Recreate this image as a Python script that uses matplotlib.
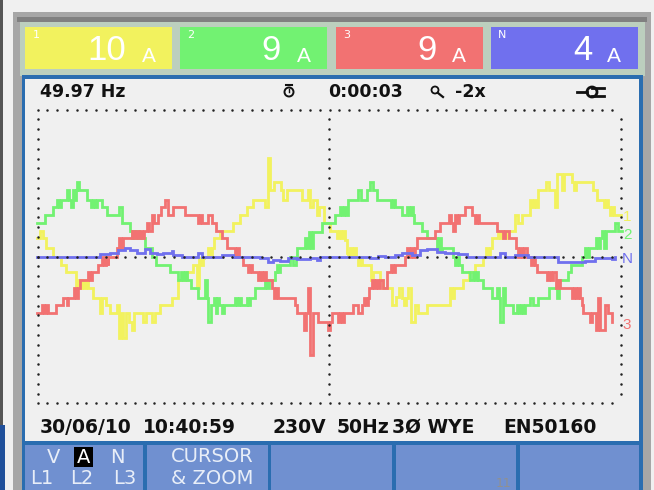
import numpy as np
import matplotlib
matplotlib.use("Agg")
import matplotlib.pyplot as plt
from matplotlib.patches import Rectangle, Circle

# readings as (time, level), time runs in two stretches split at mid screen
green_a = [(20,100),(45,124),(70,148),(82,170),(87,148),(92,170),(110,200),(118,170),(122,148),(128,200),(134,170),(138,200),(142,225),(147,200),(170,170),(182,148),(190,170),(195,148),(200,170),(217,148),(232,124),(268,148),(275,100),(300,77),(305,55),(310,77),(316,55),(322,77),(328,55),(345,25),(360,25),(366,0),(378,-25),(420,-47),(445,-70),(452,-47),(458,-70),(464,-47),(470,-70),(482,-95),(505,-125),(525,-70),(530,-125),(535,-195),(543,-145),(552,-125),(557,-170),(562,-125),(567,-145),(575,-170),(582,-145),(615,-125),(621,-145),(627,-125),(633,-145),(650,-125),(655,-145),(660,-125),(675,-95),(705,-70),(710,-95),(716,-70),(735,-47),(740,-25),(745,-47),(750,-25),(780,0),(790,-25),(798,0),(800,25),(825,55),(832,25),(838,75),(844,25),(850,75),(875,100)]
green_b = [(15,100),(30,124),(45,148),(51,124),(57,148),(63,124),(70,170),(98,200),(108,170),(125,200),(135,225),(143,200),(155,170),(197,148),(203,170),(209,148),(230,124),(245,148),(251,124),(257,148),(263,124),(268,100),(292,77),(305,55),(335,20),(341,55),(347,20),(350,25),(385,0),(391,-25),(397,0),(403,-25),(410,-47),(435,-70),(445,-47),(451,-70),(457,-47),(460,-70),(475,-95),(500,-125),(515,-95),(522,-125),(525,-195),(533,-95),(540,-145),(565,-170),(575,-145),(581,-170),(587,-145),(593,-170),(599,-145),(615,-125),(625,-145),(640,-125),(672,-95),(695,-125),(703,-70),(730,-47),(737,-25),(770,0),(780,25),(786,0),(792,25),(812,55),(818,25),(824,55),(830,77),(836,25),(842,77),(870,100),(878,77),(890,77)]

red_a = [(20,-170),(35,-145),(41,-170),(47,-145),(53,-170),(60,-170),(78,-145),(100,-125),(110,-145),(115,-125),(120,-125),(132,-95),(138,-125),(144,-95),(150,-70),(175,-47),(181,-70),(187,-47),(205,-25),(215,0),(221,-25),(227,0),(233,-25),(235,0),(262,25),(268,55),(274,25),(280,55),(305,77),(311,55),(317,77),(325,55),(330,77),(336,55),(342,77),(350,100),(358,77),(365,124),(371,100),(377,100),(385,124),(392,148),(405,170),(415,124),(428,148),(465,124),(505,100),(511,124),(517,100),(522,100),(535,124),(545,100),(558,77),(575,55),(590,25),(615,0),(621,25),(627,0),(640,-25),(655,-47),(661,-25),(667,-47),(685,-70),(691,-47),(697,-70),(703,-47),(709,-70),(725,-95),(731,-125),(737,-95),(745,-125),(795,-145),(800,-170),(822,-220),(828,-170),(833,-95),(840,-295),(848,-170),(865,-195),(895,-220),(901,-195),(907,-170)]
red_b = [(22,-170),(40,-195),(46,-170),(52,-195),(58,-170),(85,-145),(100,-170),(110,-145),(118,-125),(124,-145),(130,-125),(132,-95),(140,-70),(146,-95),(152,-70),(158,-95),(164,-70),(175,-95),(185,-47),(197,-25),(203,-47),(209,-25),(215,-25),(240,0),(247,25),(253,0),(259,25),(265,0),(271,25),(275,55),(330,77),(345,100),(372,124),(378,100),(384,77),(390,124),(396,100),(402,124),(420,148),(440,124),(450,100),(456,124),(462,100),(515,77),(533,55),(540,77),(552,55),(572,25),(578,0),(584,25),(590,0),(596,25),(605,0),(618,-25),(624,0),(630,-25),(635,-47),(665,-70),(671,-47),(677,-70),(683,-47),(692,-95),(698,-70),(705,-95),(740,-125),(746,-95),(752,-125),(758,-95),(765,-125),(770,-145),(775,-170),(795,-195),(801,-170),(805,-170),(812,-220),(820,-125),(826,-220),(832,-220),(840,-145),(850,-170),(860,-195)]

yellow_a = [(20,55),(30,77),(38,55),(48,25),(70,0),(92,-25),(108,-47),(138,-95),(145,-70),(151,-95),(157,-70),(163,-95),(169,-70),(175,-95),(188,-125),(210,-170),(216,-125),(222,-125),(228,-145),(240,-170),(262,-145),(268,-245),(274,-170),(280,-245),(288,-170),(296,-195),(305,-220),(312,-170),(340,-195),(348,-170),(366,-195),(375,-170),(390,-145),(425,-125),(445,-70),(472,-47),(490,-25),(500,-95),(506,-5),(512,-25),(518,-5),(522,0),(535,25),(541,0),(547,25),(552,55),(570,77),(610,100),(630,124),(650,148),(670,170),(705,148),(713,295),(720,200),(733,225),(753,200),(760,170),(770,200),(815,170),(835,200),(841,148),(848,170),(862,124),(868,148),(875,148),(882,100)]
yellow_b = [(15,77),(35,55),(41,77),(47,55),(53,77),(60,50),(66,10),(70,0),(76,25),(82,0),(88,25),(94,0),(100,-25),(106,0),(112,-25),(138,-70),(145,-47),(165,-70),(175,-95),(200,-145),(212,-120),(222,-95),(232,-125),(238,-145),(244,-125),(248,-95),(258,-195),(270,-145),(278,-170),(305,-145),(375,-95),(381,-125),(388,-95),(415,-70),(432,-47),(450,-25),(475,0),(483,25),(489,0),(495,25),(500,55),(520,77),(526,55),(532,77),(538,55),(545,77),(570,124),(580,100),(590,124),(615,170),(621,148),(627,170),(633,148),(640,200),(663,225),(672,200),(690,148),(695,248),(710,200),(718,248),(740,225),(746,200),(752,225),(755,225),(805,200),(815,170),(838,148),(844,170),(850,148),(855,124),(861,148),(867,124),(888,124)]

blue_a = [(20,0),(210,8),(240,12),(265,20),(285,25),(300,20),(320,10),(345,22),(360,12),(380,8),(400,12),(425,17),(430,5),(455,0),(505,10),(515,-2),(545,0),(575,4),(610,0),(690,-3),(715,-15),(730,-10),(750,-12),(775,-5),(800,-8),(840,-5),(860,-10),(870,0)]
blue_b = [(15,0),(135,-5),(160,2),(180,0),(210,4),(230,12),(260,5),(285,20),(305,24),(335,15),(360,12),(400,8),(425,0),(525,10),(540,0),(570,4),(610,0),(700,-15),(730,-15),(780,-13),(810,-5),(860,-8),(870,0)]

trace_labels = ["1", "2", "N", "3"]
label_rows = [217, 235, 259, 325]
boxes_x = [25, 180, 336, 491]
box_names = ["1", "2", "3", "N"]
box_values = ["10", "9", "9", "4"]
value_x = [126, 281, 437, 593]
unit_x = [149, 304, 459, 614]
softkeys_x = [25, 147, 271, 396, 520]
softkeys_w = [118, 121, 121, 120, 119]

col_yellow = "#f2f25e"
col_green = "#72f272"
col_red = "#f27272"
col_blue = "#7070ee"
cols = [col_yellow, col_green, col_red, col_blue]
big = "Liberation Sans"
lcd = "DejaVu Sans"


def join(a, b):
    t = [p[0] for p in a] + [p[0] + 885 for p in b]
    v = [p[1] for p in a] + [p[1] for p in b]
    return np.array(t), np.array(v)


fig = plt.figure(figsize=(6.54, 4.9), dpi=100, facecolor="#f0f0f0")

# the instrument itself, in picture pixels
bg = fig.add_axes([0, 0, 1, 1])
bg.set_xlim(0, 654)
bg.set_ylim(490, 0)
bg.axis("off")


def box(x, y, w, h, c):
    bg.add_patch(Rectangle((x, y), w, h, fc=c, ec="none"))


box(0, 0, 3, 425, "#555555")
box(0, 425, 5, 65, "#1f4f9a")
box(13, 12, 638, 478, "#a6a6a6")
box(17, 17, 630, 5, "#808080")
box(20, 22, 625, 54, "#bccfbe")
box(22, 75, 621, 415, "#2a6db0")
box(25, 79, 614, 362, "#f0f0f0")
for x0, c, name, val, vx, ux in zip(boxes_x, cols, box_names, box_values, value_x, unit_x):
    box(x0, 27, 147, 42, c)
    bg.text(x0 + 11, 35, name, color="white", fontsize=8, ha="center", va="center", family=lcd)
    bg.text(vx, 51, val, color="white", fontsize=25, ha="right", va="center", family=big)
    bg.text(ux, 56, "A", color="white", fontsize=15, ha="center", va="center", family=big)
for x0, w in zip(softkeys_x, softkeys_w):
    box(x0, 445, w, 45, "#7090d0")
box(74, 447, 19, 20, "black")

header = [(40, "49.97 Hz"), (328, "0:00:03"), (455, "-2x")]
for x0, s in header:
    bg.text(x0, 92, s, fontsize=12.5, weight="bold", ha="left", va="center", color="#111111", family=lcd)
footer = [(40, "30/06/10"), (143, "10:40:59"), (273, "230V"), (337, "50Hz"), (392, "3Ø WYE"), (503, "EN50160")]
for x0, s in footer:
    bg.text(x0, 427, s, fontsize=13.5, weight="bold", ha="left", va="center", color="#111111", family=lcd)

soft = [(54, 457, "V", "#e8eef8"), (84, 457, "A", "white"), (117, 457, "N", "#e8eef8"),
        (42, 478, "L1", "#e8eef8"), (82, 478, "L2", "#e8eef8"), (125, 478, "L3", "#e8eef8"),
        (212, 456, "CURSOR", "#e8eef8"), (212, 478, "& ZOOM", "#e8eef8")]
for x0, y0, s, c in soft:
    bg.text(x0, y0, s, fontsize=14, ha="center", va="center", color=c, family=lcd)
bg.text(504, 483, "11", fontsize=9, ha="center", va="center", color="#909090", family=lcd)

# stopwatch, magnifier and plug
bg.add_patch(Circle((289, 92), 4.5, fc="none", ec="#111111", lw=1.4))
bg.plot([286, 292], [85, 85], color="#111111", lw=1.5)
bg.plot([289, 289], [92, 89], color="#111111", lw=1)
bg.add_patch(Circle((435, 90), 3.5, fc="none", ec="#111111", lw=1.3))
bg.plot([438, 443], [93, 97], color="#111111", lw=1.6)
bg.plot([577, 587], [92, 92], color="#111111", lw=2)
bg.add_patch(Circle((592, 92), 5, fc="none", ec="#111111", lw=2))
bg.plot([592, 604], [88, 88], color="#111111", lw=2)
bg.plot([592, 604], [96, 96], color="#111111", lw=2)

# scope traces
ax = fig.add_axes([25 / 654, 1 - 441 / 490, 614 / 654, 362 / 490])
ax.set_xlim(-15, 1827)
ax.set_ylim(-553, 533)
ax.axis("off")
ax.patch.set_alpha(0)

for a, b, c in [(yellow_a, yellow_b, col_yellow), (green_a, green_b, col_green), (red_a, red_b, col_red), (blue_a, blue_b, col_blue)]:
    t, v = join(a, b)
    ax.plot(t, v, drawstyle="steps-post", color=c, lw=2.0, solid_joinstyle="miter")

grid_x = np.arange(23, 1775, 29.2)
grid_y = np.arange(-14, 15) * 29.4 + 0
for y0 in [-440, 0, 440]:
    ax.plot(grid_x, np.full(grid_x.size, y0), ls="none", marker="o", ms=1.8, color="#222222", mew=0)
for x0 in [23, 898, 1773]:
    gy = grid_y[np.abs(grid_y) <= 440]
    ax.plot(np.full(gy.size, x0), gy, ls="none", marker="o", ms=1.8, color="#222222", mew=0)

for s, py, c in zip(trace_labels, label_rows, [col_yellow, col_green, col_blue, col_red]):
    bg.text(627, py, s, color=c, fontsize=11, ha="center", va="center", zorder=5, family=big)

fig.savefig("out.png", dpi=100, facecolor=fig.get_facecolor())
